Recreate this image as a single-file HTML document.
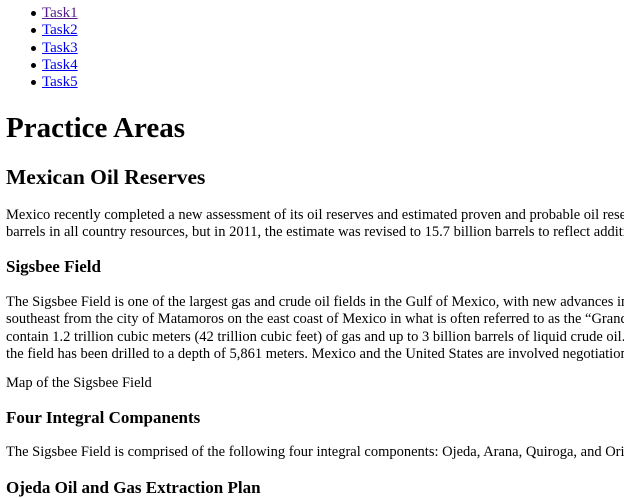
<!DOCTYPE html>
<html><head><meta charset="utf-8"><style>
body{margin:0;width:624px;height:485px;overflow:hidden;background:#fff;font-family:"Liberation Serif",serif;color:#000;position:relative}
.a{position:absolute;left:6px;width:618px;overflow:hidden;white-space:nowrap;font-size:14.5px;line-height:17.3px}
a{color:#0000ee}
a.v{color:#551a8b}
.li{left:42px;width:100px;font-size:15px}
.b{position:absolute;left:31px;width:5px;height:5px;border-radius:50%;background:#000}
h1,h2,h3{margin:0;font-weight:bold}
</style></head><body>
<div class="b" style="top:11px"></div>
<div class="b" style="top:28px"></div>
<div class="b" style="top:46px"></div>
<div class="b" style="top:63px"></div>
<div class="b" style="top:80px"></div>
<div class="a li" style="top:5px"><a class="v" href="#">Task1</a></div>
<div class="a li" style="top:22px"><a href="#">Task2</a></div>
<div class="a li" style="top:40px"><a href="#">Task3</a></div>
<div class="a li" style="top:57px"><a href="#">Task4</a></div>
<div class="a li" style="top:74px"><a href="#">Task5</a></div>
<h1 class="a" style="top:110px;font-size:29px;line-height:36px">Practice Areas</h1>
<h2 class="a" style="top:163px;font-size:21.5px;line-height:28px">Mexican Oil Reserves</h2>
<p class="a" style="top:207px;margin:0">Mexico recently completed a new assessment of its oil reserves and estimated proven and probable oil reserves of<br>barrels in all country resources, but in 2011, the estimate was revised to 15.7 billion barrels to reflect additional</p>
<h3 class="a" style="top:257px;font-size:17px;line-height:20px">Sigsbee Field</h3>
<p class="a" style="top:294px;margin:0">The Sigsbee Field is one of the largest gas and crude oil fields in the Gulf of Mexico, with new advances in<br>southeast from the city of Matamoros on the east coast of Mexico in what is often referred to as the “Grand<br>contain 1.2 trillion cubic meters (42 trillion cubic feet) of gas and up to 3 billion barrels of liquid crude oil. The<br>the field has been drilled to a depth of 5,861 meters. Mexico and the United States are involved negotiations</p>
<p class="a" style="top:375px;margin:0">Map of the Sigsbee Field</p>
<h3 class="a" style="top:408px;font-size:17px;line-height:20px">Four Integral Companents</h3>
<p class="a" style="top:444px;margin:0">The Sigsbee Field is comprised of the following four integral components: Ojeda, Arana, Quiroga, and Orizaba.</p>
<h3 class="a" style="top:478px;font-size:17px;line-height:20px">Ojeda Oil and Gas Extraction Plan</h3>
</body></html>
